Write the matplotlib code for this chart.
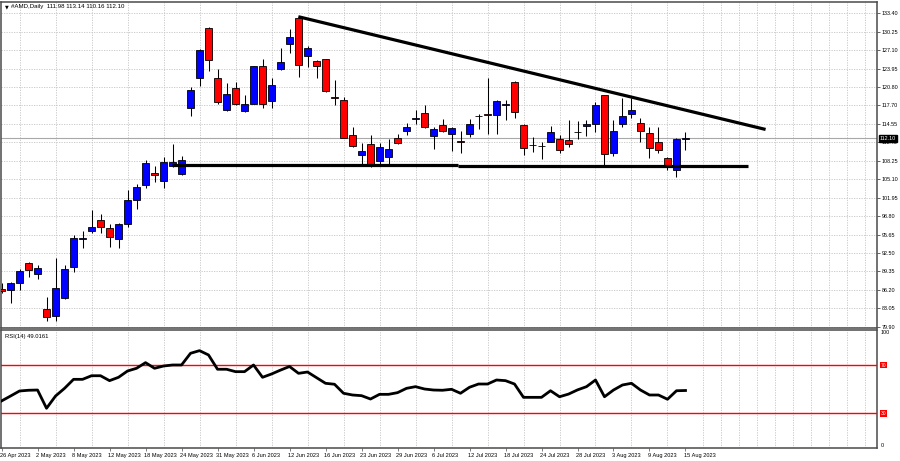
import matplotlib
matplotlib.use("Agg")
import matplotlib.pyplot as plt
import matplotlib.transforms as mtransforms
import numpy as np

# daily AMD candles, 26 Apr 2023 .. 15 Aug 2023
opens = [86.3, 86.2, 87.4, 90.8, 89.0, 82.9, 81.8, 84.9, 90.2, 94.95,
         96.3, 98.2, 96.8, 94.9, 97.5, 101.6, 104.1, 106.1, 104.8, 107.3,
         106.0, 117.3, 122.3, 130.9, 122.3, 117.0, 120.6, 116.8, 118.0, 124.4,
         118.5, 124.0, 128.2, 132.6, 126.1, 125.3, 125.6, 119.1, 118.6, 112.6,
         109.3, 111.05, 108.2, 108.9, 112.1, 113.3, 115.4, 116.4, 112.4, 114.35,
         112.9, 111.7, 112.9, 115.85, 116.3, 116.0, 117.7, 121.7, 114.3, 111.0,
         110.7, 111.5, 112.0, 111.85, 113.1, 114.15, 114.5, 119.4, 109.5, 114.6,
         116.2, 114.7, 113.05, 111.45, 108.8, 106.7, 111.98]
highs = [87.3, 87.6, 89.8, 91.0, 90.45, 85.0, 91.65, 90.45, 95.5, 96.2,
         99.9, 99.2, 97.4, 97.6, 103.3, 104.3, 108.3, 107.3, 108.9, 111.05,
         109.0, 120.8, 127.3, 131.05, 124.0, 121.45, 121.7, 119.4, 124.5, 125.55,
         122.3, 127.45, 130.7, 133.0, 127.9, 125.45, 125.6, 122.0, 119.15, 114.0,
         111.3, 112.65, 111.3, 111.9, 112.9, 114.7, 117.0, 117.85, 114.0, 115.45,
         114.0, 113.3, 115.45, 116.3, 122.3, 118.6, 118.7, 121.8, 114.5, 112.3,
         111.45, 114.15, 112.6, 115.15, 115.05, 115.15, 118.3, 119.55, 115.15, 118.9,
         118.9, 115.6, 114.0, 114.0, 108.9, 112.15, 113.14]
lows = [85.6, 83.9, 86.2, 88.45, 88.05, 80.9, 80.9, 84.6, 89.2, 93.3,
        95.9, 95.9, 93.6, 93.4, 96.9, 100.0, 103.6, 104.6, 103.6, 107.2,
        105.75, 115.9, 121.0, 123.6, 118.0, 116.75, 117.7, 116.6, 117.9, 117.2,
        117.3, 123.7, 126.6, 122.6, 124.3, 122.4, 120.0, 117.7, 112.1, 110.6,
        107.5, 107.2, 107.4, 107.4, 111.15, 112.6, 114.6, 113.9, 110.3, 113.15,
        109.9, 109.55, 112.3, 113.75, 112.9, 112.9, 115.15, 115.6, 109.3, 109.75,
        108.6, 111.45, 109.55, 110.6, 112.0, 112.4, 113.15, 107.45, 109.0, 114.0,
        115.6, 111.45, 108.8, 109.55, 106.6, 105.45, 110.16]
closes = [85.95, 87.3, 89.4, 89.6, 89.9, 81.5, 86.6, 89.8, 95.0, 95.0,
          97.0, 97.0, 95.2, 97.4, 101.5, 103.7, 107.9, 105.9, 108.0, 108.0,
          108.3, 120.4, 127.15, 125.4, 118.3, 119.6, 117.9, 118.0, 124.4, 118.0,
          121.2, 125.15, 129.4, 124.6, 127.5, 124.5, 120.2, 119.0, 112.2, 110.8,
          110.0, 107.45, 110.6, 110.25, 111.3, 114.0, 115.5, 114.0, 113.6, 113.3,
          113.8, 111.4, 114.6, 115.9, 116.1, 118.4, 118.0, 116.5, 110.4, 110.95,
          110.75, 113.1, 110.15, 111.2, 113.15, 114.6, 117.85, 109.35, 113.3, 115.9,
          116.9, 113.3, 110.5, 110.15, 107.6, 112.0, 112.10]

rsi = [40.3, 44.4, 48.6, 49.2, 49.4, 34.2, 44.4, 50.8, 58.3, 58.3,
       61.3, 61.3, 57.2, 60.0, 65.25, 67.5, 72.2, 67.5, 69.4, 70.25,
       70.25, 80.0, 82.2, 78.6, 66.7, 66.7, 64.7, 64.7, 70.25, 60.0,
       62.75, 66.0, 69.0, 63.3, 64.4, 59.7, 55.0, 54.2, 46.7, 45.25,
       44.7, 41.9, 45.8, 45.8, 47.2, 50.8, 52.2, 50.25, 49.4, 49.2,
       50.0, 46.7, 51.7, 54.4, 54.4, 57.75, 57.2, 54.4, 43.3, 43.3,
       43.3, 48.8, 43.8, 46.0, 49.5, 52.2, 57.75, 43.8, 49.4, 53.6,
       55.0, 49.4, 45.25, 45.25, 41.7, 48.8, 49.0]

date_labels = ["26 Apr 2023", "2 May 2023", "8 May 2023", "12 May 2023", "18 May 2023",
               "24 May 2023", "31 May 2023", "6 Jun 2023", "12 Jun 2023", "16 Jun 2023",
               "23 Jun 2023", "29 Jun 2023", "6 Jul 2023", "12 Jul 2023", "18 Jul 2023",
               "24 Jul 2023", "28 Jul 2023", "3 Aug 2023", "9 Aug 2023", "15 Aug 2023"]
date_bars = list(range(0, 77, 4))

price_ticks = [133.40, 130.25, 127.10, 123.95, 120.80, 117.70, 114.55, 111.40, 108.25,
               105.10, 101.95, 98.80, 95.65, 92.50, 89.35, 86.20, 83.05, 79.90]

# drawn lines: falling resistance and flat support
trend_x = [32.98, 84.9]
trend_y = [132.85, 113.6]
support_x = [[18.9, 50.7], [50.7, 83.0]]
support_y = [[107.5, 107.5], [107.35, 107.35]]

header = "#AMD,Daily  111.98 113.14 110.16 112.10"
rsi_label = "RSI(14) 49.0161"
last_price = 112.10

plt.rcParams["font.family"] = ["Liberation Sans", "DejaVu Sans"]

W, H = 900, 461
fig = plt.figure(figsize=(W / 100, H / 100), dpi=100)


def box(l, t, r, b):
    return [l / W, 1 - b / H, (r - l) / W, (b - t) / H]


ax = fig.add_axes(box(1, 2, 877, 328))
rax = fig.add_axes(box(1, 330, 877, 448), sharex=ax)

grid_kw = dict(color="#c4c4c4", linestyle=(0, (1.5, 1.5)), linewidth=0.6)
frame_col = "#4a4a4a"

o = np.array(opens)
c = np.array(closes)
x = np.arange(len(o))
colors = np.where(c >= o, "#0000ff", "#ff0000")

ax.vlines(x, lows, highs, color="black", lw=0.75, zorder=3)
ax.bar(x, np.abs(c - o), bottom=np.minimum(o, c), width=0.7, color=colors,
       edgecolor="black", linewidth=0.6, zorder=4)

ax.axhline(last_price, color="#a8a8a8", lw=0.8, zorder=2)
ax.plot(trend_x, trend_y, color="black", lw=2.3, solid_capstyle="butt", zorder=5)
for sx, sy in zip(support_x, support_y):
    ax.plot(sx, sy, color="black", lw=2.3, solid_capstyle="butt", zorder=5)

ax.set_xlim(-0.06, 97.28)
ax.set_ylim(79.70, 135.36)

for a in (ax, rax):
    a.set_xticks(np.arange(0, 98, 2), minor=True)
    a.grid(True, which="minor", axis="x", **grid_kw)
    for s in a.spines.values():
        s.set_color(frame_col)
        s.set_linewidth(1.1)
    a.set_axisbelow(True)

ax.set_yticks(price_ticks)
ax.set_yticklabels([f"{v:.2f}" for v in price_ticks])
ax.yaxis.tick_right()
ax.grid(True, which="major", axis="y", **grid_kw)
ax.tick_params(axis="y", labelsize=3.9, length=2.5, width=0.6, pad=1, color=frame_col)
ax.tick_params(axis="x", which="both", bottom=False, labelbottom=False)

# last price box on the price scale
ytr = mtransforms.blended_transform_factory(ax.transAxes, ax.transData)
ax.text(1.003, last_price, f"{last_price:.2f}", transform=ytr, ha="left", va="center",
        fontsize=3.9, color="white", zorder=10,
        bbox=dict(facecolor="black", edgecolor="black", pad=0.6))

ax.text(0.004, 0.992, "\u25bc", transform=ax.transAxes, fontsize=3.5, ha="left", va="top",
        family="DejaVu Sans")
ax.text(0.011, 0.994, header, transform=ax.transAxes, fontsize=4.4, ha="left", va="top")

# RSI pane
rax.plot(x, rsi, color="black", lw=2.0, zorder=4)
rax.axhline(70, color="#ff0000", lw=1.0, zorder=3)
rax.axhline(30, color="#ff0000", lw=1.0, zorder=3)
rax.set_ylim(1.1, 99.4)
rax.set_yticks([])
rax.tick_params(axis="x", which="minor", length=0)
rax.set_xticks(date_bars)
rax.tick_params(axis="x", which="major", length=2, width=0.5, color=frame_col,
                labelbottom=False)
rax.text(0.004, 0.97, rsi_label, transform=rax.transAxes, fontsize=4.2, ha="left", va="top")

rtr = mtransforms.blended_transform_factory(rax.transAxes, rax.transData)
rax.text(1.004, 97.0, "100", transform=rtr, fontsize=3.9, ha="left", va="center")
rax.text(1.004, 3.0, "0", transform=rtr, fontsize=3.9, ha="left", va="center")
for lvl in (70, 30):
    rax.text(1.004, lvl, str(lvl), transform=rtr, fontsize=3.6, ha="left", va="center",
             color="white", bbox=dict(facecolor="#ff0000", edgecolor="none", pad=0.5))

xtr = mtransforms.blended_transform_factory(rax.transData, rax.transAxes)
for b, lab in zip(date_bars, date_labels):
    rax.text(b - 0.12, -0.045, lab, transform=xtr, fontsize=4.1, ha="left", va="top")

fig.savefig("out.png", dpi=100, facecolor="white")
